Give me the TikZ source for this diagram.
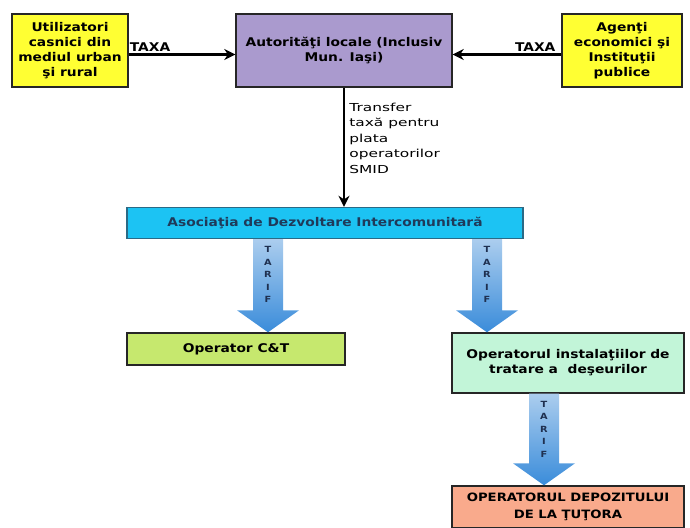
\documentclass[tikz,border=0pt]{standalone}
\usepackage{fontspec}
\setmainfont{DejaVu Sans}
\newfontfamily\boxfont[FakeStretch=1.15]{DejaVu Sans}
\newfontfamily\notefont[FakeStretch=1.4]{DejaVu Sans}
\usetikzlibrary{positioning,calc,arrows.meta}

\definecolor{boxYellow}{HTML}{FFFF33}
\definecolor{boxPurple}{HTML}{AA9ACE}
\definecolor{adiCyan}{HTML}{1CC3F3}
\definecolor{adiBorder}{HTML}{2A6A86}
\definecolor{adiText}{HTML}{1F3A5A}
\definecolor{ctGreen}{HTML}{C6E86E}
\definecolor{instalMint}{HTML}{C2F5D8}
\definecolor{depozSalmon}{HTML}{F9AA8C}
\definecolor{tarifLight}{HTML}{ABCDEE}
\definecolor{tarifDark}{HTML}{3A8CDA}
\definecolor{tarifText}{HTML}{1F3050}

% block arrow "TARIF": #1 coordinate giving x, #2 upper node, #3 lower node
\newcommand{\tarifarrow}[3]{%
  \path (#1 |- #2.south) coordinate (#1top) (#1 |- #3.north) coordinate (#1tip);
  \shade[tarifshade] ($(#1top)+(-15,0)$) -- ($(#1top)+(15,0)$) -- ($(#1tip)+(15,-22)$)
    -- ($(#1tip)+(31,-22)$) -- (#1tip) -- ($(#1tip)+(-31,-22)$) -- ($(#1tip)+(-15,-22)$) -- cycle;
  \node[tariftext, below=6pt of #1top] {T\\A\\R\\I\\F};
}

\begin{document}
\begin{tikzpicture}[x=1pt,y=-1pt,
            box/.style={rectangle, draw=black!85, line width=1.4pt, align=center, inner sep=2pt,
                font=\boxfont\bfseries\fontsize{12}{15}\selectfont},
            taxarrow/.style={line width=2.8pt, -{Stealth[length=11pt,width=11pt]}},
            taxlabel/.style={inner sep=2pt, font=\boxfont\bfseries\fontsize{12}{14}\selectfont},
            notelabel/.style={inner sep=2pt, align=left, font=\notefont\fontsize{11}{15.5}\selectfont},
            tarifshade/.style={top color=tarifLight, bottom color=tarifDark},
            tariftext/.style={inner sep=1pt, align=center, text=tarifText,
                font=\boxfont\bfseries\fontsize{8.5}{12.5}\selectfont},
        ]
        \useasboundingbox (0,0) rectangle (690,527);

        \node[box, fill=boxYellow, minimum width=116pt, minimum height=73pt] (casnici) at (70,50.5) {Utilizatori\\casnici din\\mediul urban\\şi rural};
        \node[box, fill=boxPurple, minimum width=216pt, minimum height=73pt] (autoritati) at (344,50.5) {Autorităţi locale (Inclusiv\\Mun. Iaşi)};
        \node[box, fill=boxYellow, minimum width=120pt, minimum height=73pt] (agenti) at (622,50.5) {Agenţi\\economici şi\\Instituţii\\publice};
        \node[box, draw=adiBorder, fill=adiCyan, text=adiText, minimum width=396pt, minimum height=31pt] (adi) at (325,223) {Asociaţia de Dezvoltare Intercomunitară};
        \node[box, fill=ctGreen, minimum width=218pt, minimum height=32pt] (ct) at (236,349) {Operator C\&T};
        \node[box, fill=instalMint, minimum width=232pt, minimum height=60pt] (instal) at (568,363) {Operatorul instalaţiilor de\\tratare a~ deşeurilor};
        \node[box, fill=depozSalmon, minimum width=232pt, minimum height=42pt, font=\boxfont\bfseries\fontsize{11.5}{17}\selectfont] (depozit) at (568,507) {OPERATORUL DEPOZITULUI\\DE LA ŢUŢORA};

        \draw[taxarrow] ([yshift=-4pt]casnici.east) -- node[taxlabel, pos=0.2, above] {TAXA} ([yshift=-4pt]casnici.east -| autoritati.west);
        \draw[taxarrow] ([yshift=-4pt]agenti.west) -- node[taxlabel, pos=0.24, above] {TAXA} ([yshift=-4pt]agenti.west -| autoritati.east);
        \draw[taxarrow] (autoritati.south) -- node[notelabel, pos=0.1, anchor=north west, xshift=2pt] {Transfer\\taxă pentru\\plata\\operatorilor\\SMID} (autoritati.south |- adi.north);

        \coordinate (tarif1) at (268,0);
        \coordinate (tarif2) at (487,0);
        \coordinate (tarif3) at (544,0);
        \tarifarrow{tarif1}{adi}{ct}
        \tarifarrow{tarif2}{adi}{instal}
        \tarifarrow{tarif3}{instal}{depozit}
    \end{tikzpicture}
\end{document}
